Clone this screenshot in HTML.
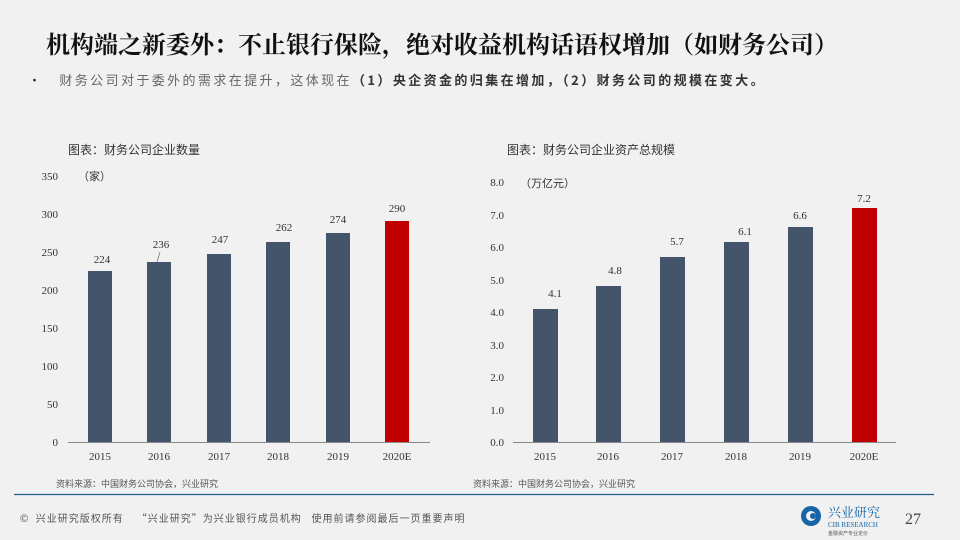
<html><head><style>
body{margin:0;width:960px;height:540px;background:#f1f1f1;font-family:"Liberation Serif","Noto Serif CJK SC",serif;position:relative;overflow:hidden}
.t{position:absolute;white-space:nowrap}
</style></head><body>
<div class="t" style="left:46px;top:25px;font-size:24px;font-weight:bold;color:#111;font-family:'Noto Serif CJK SC',serif">机构端之新委外：不止银行保险，绝对收益机构话语权增加（如财务公司）</div>
<div class="t" style="left:28px;top:70px;font-size:13px;color:#333;font-family:'Noto Sans CJK SC',sans-serif;letter-spacing:2.4px">•&nbsp;&nbsp; <span style="color:#666">财务公司对于委外的需求在提升，这体现在</span><b>（1）央企资金的归集在增加，（2）财务公司的规模在变大。</b></div>
<div class="t" style="left:68px;top:141px;font-size:12px;color:#333;font-family:'Noto Sans CJK SC',sans-serif">图表：财务公司企业数量</div>
<div class="t" style="left:507px;top:141px;font-size:12px;color:#333;font-family:'Noto Sans CJK SC',sans-serif">图表：财务公司企业资产总规模</div>
<svg width="960" height="540" style="position:absolute;left:0;top:0" font-family="Liberation Serif" font-size="11" fill="#333">
<g text-anchor="end">
<text x="58" y="446">0</text><text x="58" y="408">50</text><text x="58" y="370">100</text><text x="58" y="332">150</text><text x="58" y="294">200</text><text x="58" y="256">250</text><text x="58" y="218">300</text><text x="58" y="180">350</text>
<text x="504" y="446">0.0</text><text x="504" y="414">1.0</text><text x="504" y="381">2.0</text><text x="504" y="349">3.0</text><text x="504" y="316">4.0</text><text x="504" y="284">5.0</text><text x="504" y="251">6.0</text><text x="504" y="219">7.0</text><text x="504" y="186">8.0</text>
</g>
<text x="78" y="180" font-family="Noto Sans CJK SC" font-size="11">（家）</text>
<text x="520" y="187" font-family="Noto Sans CJK SC" font-size="11">（万亿元）</text>
<line x1="68" y1="442.5" x2="430" y2="442.5" stroke="#888"/>
<line x1="513" y1="442.5" x2="896" y2="442.5" stroke="#888"/>
<g fill="#44546a">
<rect x="88" y="271" width="24" height="171"/><rect x="147" y="262" width="24" height="180"/><rect x="207" y="254" width="24" height="188"/><rect x="266" y="242" width="24" height="200"/><rect x="326" y="233" width="24" height="209"/>
<rect x="533" y="309" width="25" height="133"/><rect x="596" y="286" width="25" height="156"/><rect x="660" y="257" width="25" height="185"/><rect x="724" y="242" width="25" height="200"/><rect x="788" y="227" width="25" height="215"/>
</g>
<rect x="385" y="221" width="24" height="221" fill="#c00000"/>
<rect x="852" y="208" width="25" height="234" fill="#c00000"/>
<g text-anchor="middle">
<text x="102" y="263">224</text><text x="161" y="248">236</text><text x="220" y="243">247</text><text x="284" y="231">262</text><text x="338" y="223">274</text><text x="397" y="212">290</text>
<text x="555" y="297">4.1</text><text x="615" y="274">4.8</text><text x="677" y="245">5.7</text><text x="745" y="235">6.1</text><text x="800" y="219">6.6</text><text x="864" y="202">7.2</text>
<text x="100" y="460">2015</text><text x="159" y="460">2016</text><text x="219" y="460">2017</text><text x="278" y="460">2018</text><text x="338" y="460">2019</text><text x="397" y="460">2020E</text>
<text x="545" y="460">2015</text><text x="608" y="460">2016</text><text x="672" y="460">2017</text><text x="736" y="460">2018</text><text x="800" y="460">2019</text><text x="864" y="460">2020E</text>
</g>
<line x1="160" y1="252" x2="157" y2="262" stroke="#666" stroke-width="0.7"/>
<line x1="14" y1="494.5" x2="934" y2="494.5" stroke="#1f5f8b" stroke-width="1.2"/>
<circle cx="811" cy="516" r="10" fill="#1565a8"/><circle cx="811" cy="516" r="5" fill="#f1f1f1"/><circle cx="813" cy="516" r="3" fill="#1565a8"/>
<text x="828" y="517" font-family="Noto Serif CJK SC" font-size="13" fill="#1565a8">兴业研究</text>
<text x="828" y="527" font-size="7" fill="#1565a8">CIB RESEARCH</text>
<text x="828" y="535" font-family="Noto Sans CJK SC" font-size="5" fill="#555">金融资产专业定价</text>
<text x="905" y="524" font-size="16" fill="#444">27</text>
</svg>
<div class="t" style="left:56px;top:477px;font-size:9px;color:#555;font-family:'Noto Sans CJK SC',sans-serif">资料来源：中国财务公司协会，兴业研究</div>
<div class="t" style="left:473px;top:477px;font-size:9px;color:#555;font-family:'Noto Sans CJK SC',sans-serif">资料来源：中国财务公司协会，兴业研究</div>
<div class="t" style="left:20px;top:510px;font-size:10px;color:#555;font-family:'Noto Sans CJK SC',sans-serif;letter-spacing:1px">©&nbsp; 兴业研究版权所有&nbsp;&nbsp;&nbsp; “兴业研究”为兴业银行成员机构&nbsp;&nbsp; 使用前请参阅最后一页重要声明</div>
</body></html>
